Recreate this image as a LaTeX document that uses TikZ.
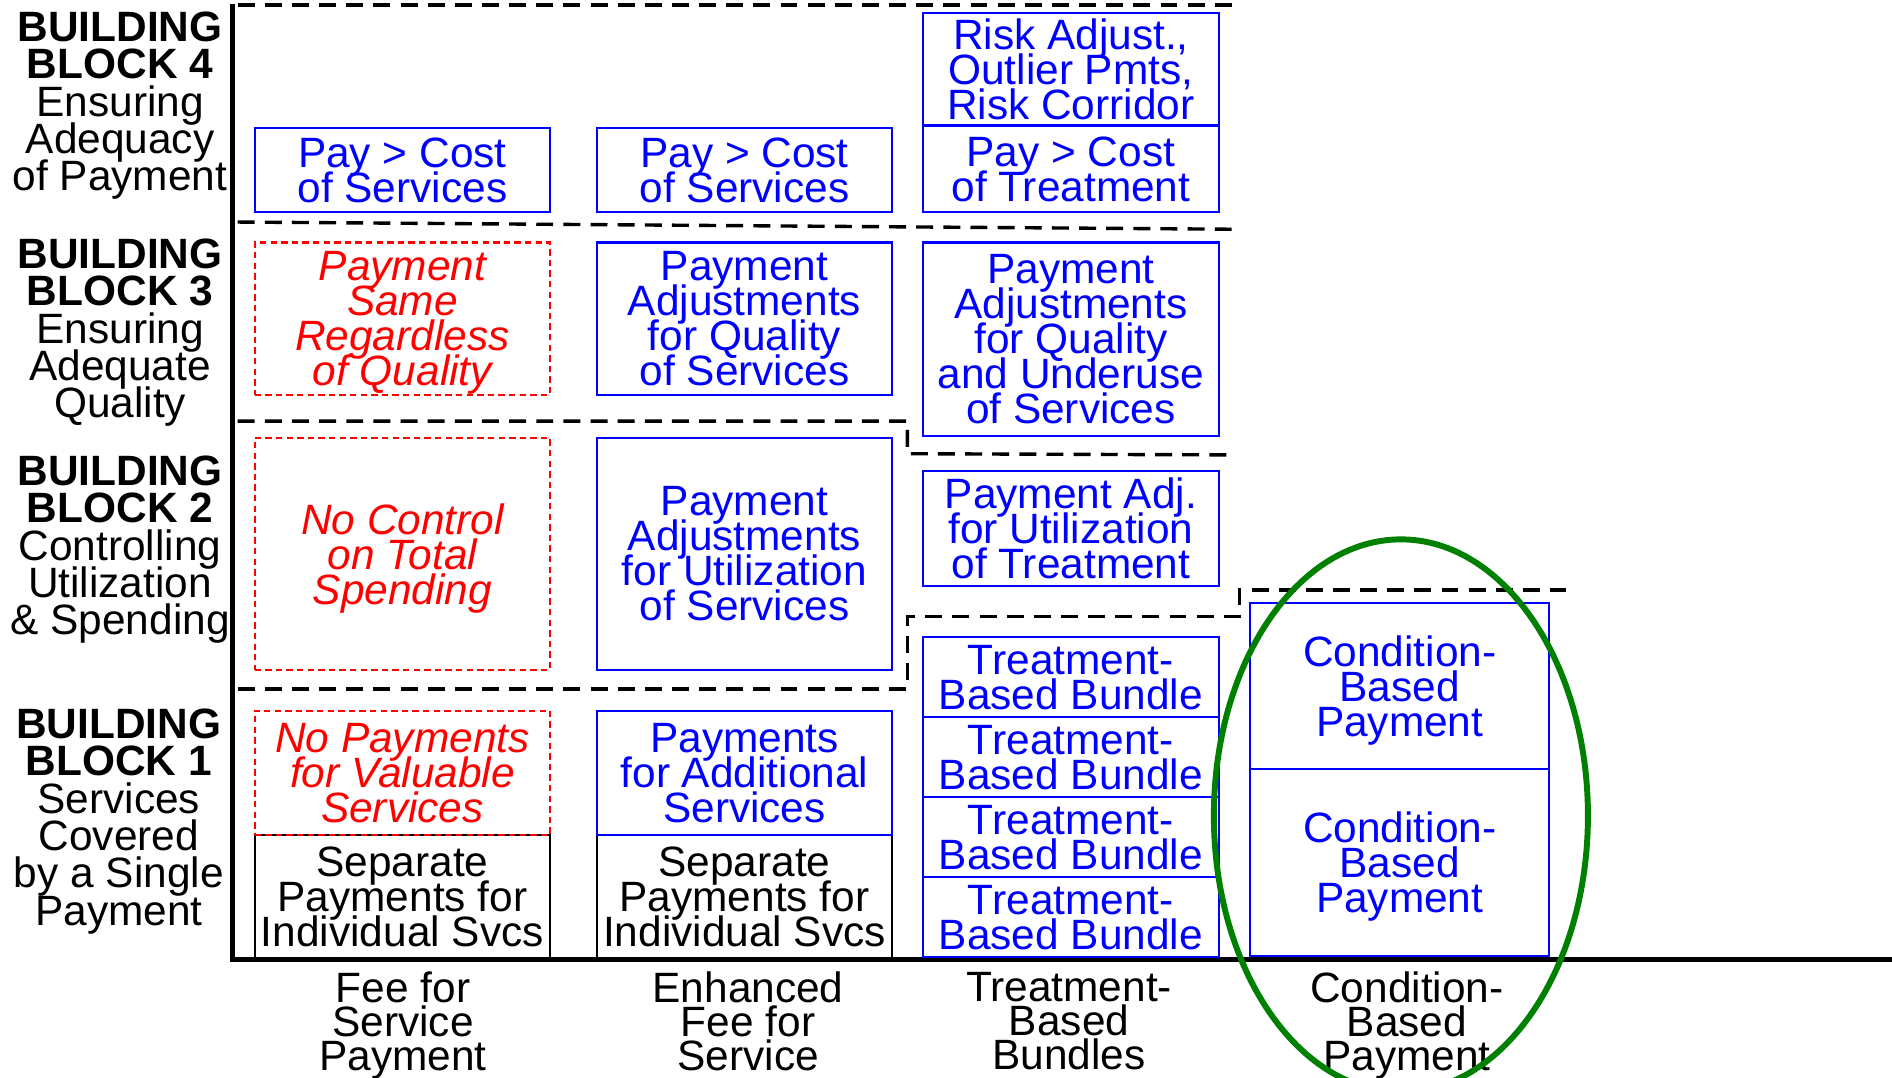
\documentclass[tikz,border=0pt]{standalone}
\usepackage{fontspec}
\setmainfont{Liberation Sans}
\usetikzlibrary{positioning}
\newcommand{\tightlines}[1]{\fontsize{10}{#1}\selectfont\setlength{\lineskiplimit}{-20pt}}

\begin{document}
\begin{tikzpicture}[x=0.1mm, y=-0.1mm, font=\tightlines{8.25},
    cell/.style={draw=blue, text=blue, line width=0.5pt, align=center, inner sep=0pt, outer sep=0pt, text depth=0pt, minimum width=24.5mm},
    gap/.style={draw=red, text=red, dash pattern=on 1.5pt off 1pt, line width=0.5pt, align=center, inner sep=0pt, outer sep=0pt, text depth=0pt, minimum width=24.5mm, font=\tightlines{8.25}\itshape},
    plain/.style={draw, line width=0.5pt, align=center, inner sep=0pt, outer sep=0pt, text depth=0pt, minimum width=24.5mm},
    blk/.style={align=center, inner sep=0pt, text depth=0pt, font=\tightlines{8.8}},
    lbl/.style={align=center, inner sep=0pt, text depth=0pt, font=\tightlines{8}},
    divider/.style={line width=0.8pt, dash pattern=on 4pt off 2.4pt}]
  \useasboundingbox (0,0) rectangle (1568,893);
  % building blocks
  \node[blk] (bb4) at (99.5,84) {\textbf{BUILDING}\\\textbf{BLOCK 4}\\Ensuring\\Adequacy\\of Payment};
  \node[blk] (bb3) at (99.5,272) {\textbf{BUILDING}\\\textbf{BLOCK 3}\\Ensuring\\Adequate\\Quality};
  \node[blk] (bb2) at (99.5,452) {\textbf{BUILDING}\\\textbf{BLOCK 2}\\Controlling\\Utilization\\\& Spending};
  \node[blk] (bb1) at (98.5,677) {\textbf{BUILDING}\\\textbf{BLOCK 1}\\Services\\Covered\\by a Single\\Payment};
  % rows
  \draw[divider] (197,4) -- (1025,4);
  \draw[divider] (197,184) -- (1025,190);
  \draw[divider] (197,349) -- (752,349) -- (752,376) -- (1020,377);
  \draw[divider] (197,571) -- (752,571) -- (752,511) -- (1027,511) -- (1027,489) -- (1298,489);
  \draw[line width=1.15pt] (193,3) -- (193,795) -- (1568,795);
  % fee for service
  \node[cell, minimum height=7mm] (f4) at (333.5,141) {Pay > Cost\\of Services};
  \node[gap, minimum height=12.6mm] (f3) at (333.5,264) {Payment\\Same\\Regardless\\of Quality};
  \node[gap, minimum height=19.2mm] (f2) at (333.5,459) {No Control\\on Total\\Spending};
  \node[plain, minimum height=10.3mm] (f0) at (333.5,743.5) {Separate\\Payments for\\Individual Svcs};
  \node[gap, minimum height=10.3mm, above=0pt of f0] (f1) {No Payments\\for Valuable\\Services};
  % enhanced fee for service
  \node[cell, minimum height=7mm] (e4) at (617,141) {Pay > Cost\\of Services};
  \node[cell, minimum height=12.6mm] (e3) at (617,264) {Payment\\Adjustments\\for Quality\\of Services};
  \node[cell, minimum height=19.2mm] (e2) at (617,459) {Payment\\Adjustments\\for Utilization\\of Services};
  \node[plain, minimum height=10.3mm] (e0) at (617,743.5) {Separate\\Payments for\\Individual Svcs};
  \node[cell, minimum height=10.3mm, above=0pt of e0] (e1) {Payments\\for Additional\\Services};
  % treatment-based bundles
  \node[cell, minimum height=7.2mm] (t4) at (887.5,140) {Pay > Cost\\of Treatment};
  \node[cell, minimum height=9.3mm, above=0pt of t4] (t5) {Risk Adjust.,\\Outlier Pmts,\\Risk Corridor};
  \node[cell, minimum height=16mm] (t3) at (887.5,281) {Payment\\Adjustments\\for Quality\\and Underuse\\of Services};
  \node[cell, minimum height=9.6mm] (t2) at (887.5,438) {Payment Adj.\\for Utilization\\of Treatment};
  \foreach \y [count=\i] in {561.1,627.4,693.6,759.9}
    \node[cell, minimum height=6.625mm] (tb\i) at (887.5,\y) {Treatment-\\Based Bundle};
  % condition-based payment
  \node[cell, minimum width=24.8mm, minimum height=13.7mm] (c2) at (1160,568.5) {Condition-\\Based\\Payment};
  \node[cell, minimum width=24.8mm, minimum height=15.5mm, below=0pt of c2] (c1) {Condition-\\Based\\Payment};
  % models
  \node[lbl] (xf) at (334,846) {Fee for\\Service\\Payment};
  \node[lbl] (xe) at (620,846) {Enhanced\\Fee for\\Service};
  \node[lbl] (xt) at (886,846) {Treatment-\\Based\\Bundles};
  \node[lbl] (xc) at (1166,846) {Condition-\\Based\\Payment};
  \draw[green!50!black, line width=1.4pt] (1161,676) ellipse [x radius=15.5mm, y radius=22.9mm];
\end{tikzpicture}
\end{document}
